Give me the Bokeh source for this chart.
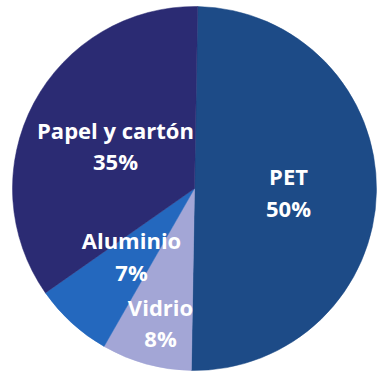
import math
from bokeh.plotting import figure
from bokeh.models import Range1d, ColumnDataSource
from bokeh.core.properties import value
from bokeh.embed import file_html
from bokeh.resources import INLINE

# Data
categories = ["PET", "Vidrio", "Aluminio", "Papel y cartón"]
percentages = [50, 8, 7, 35]

# Style
colors = ["#1D4B87", "#A3A6D6", "#2468BE", "#2B2B73"]
# label anchor points (page px, baseline of name line)
label_xy = [(288, 175), (160, 306), (131, 239), (115, 129)]
line_gap = [32, 31, 32, 31]

W, H = 377, 372
p = figure(width=W, height=H, output_backend="svg", toolbar_location=None,
           x_range=Range1d(0, W), y_range=Range1d(-H, 0),
           min_border=0)
p.axis.visible = False
p.grid.visible = False
p.outline_line_color = None
p.background_fill_color = "white"
p.border_fill_color = "white"

cx, cy, r = 194, -188, 182
start = math.radians(89)
starts, ends = [], []
a = start
for v in percentages:
    span = math.radians(v / 100 * 360)
    starts.append(a)
    ends.append(a - span)
    a -= span

src = ColumnDataSource(dict(start=starts, end=ends, color=colors))
p.wedge(x=cx, y=cy, radius=r, start_angle="start", end_angle="end",
        direction="clock", fill_color="color", line_color="color",
        line_width=0.5, source=src)

tx, ty, tt = [], [], []
for cat, pct, (lx, ly), g in zip(categories, percentages, label_xy, line_gap):
    tx += [lx, lx]
    ty += [-ly, -(ly + g)]
    tt += [cat, f"{pct}%"]

p.text(x=tx, y=ty, text=tt, text_align="center", text_baseline="alphabetic",
       text_color="white", text_font=value("Open Sans"), text_font_style="bold",
       text_font_size="22px")

open("out.html", "w").write(file_html(p, INLINE))
